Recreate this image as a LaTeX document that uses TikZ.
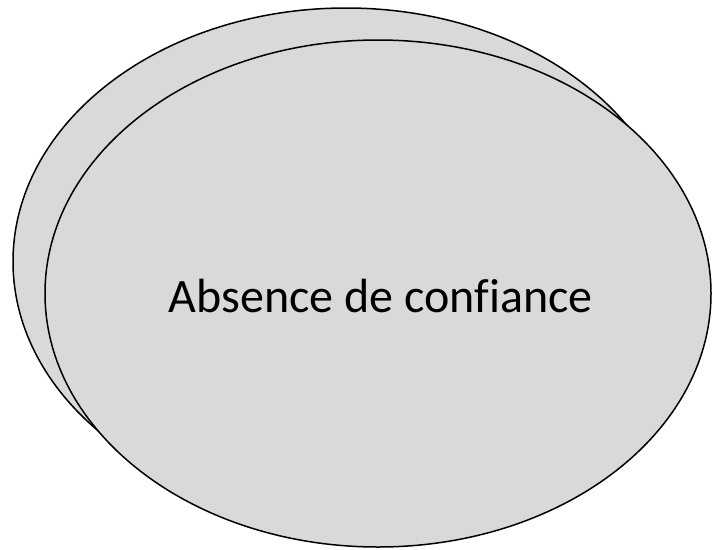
\documentclass[tikz,border=0pt]{standalone}
\usepackage{fontspec}
\setmainfont[Ligatures=NoCommon]{Carlito}
\usetikzlibrary{positioning}

\begin{document}
\begin{tikzpicture}[
        x=1pt, y=-1pt,
        % Estilo de las elipses
        oval/.style={
                draw=black,
                line width=1.5pt,
                fill=gray!30
            },
        % Texto
        label/.style={
                inner sep=0pt,
                anchor=base,
                font=\fontsize{48}{58}\selectfont
            }
    ]
    \useasboundingbox (0,0) rectangle (712,549);

    % ELIPSE DE ATRAS
    \draw[oval] (346,261.5) ellipse [x radius=333pt, y radius=253.5pt];

    % ELIPSE DE DELANTE
    \draw[oval] (378,293.5) ellipse [x radius=333pt, y radius=253.5pt];

    % TEXTO
    \node[label] (texto) at (380.5,312) {Absence de confiance};

\end{tikzpicture}
\end{document}
